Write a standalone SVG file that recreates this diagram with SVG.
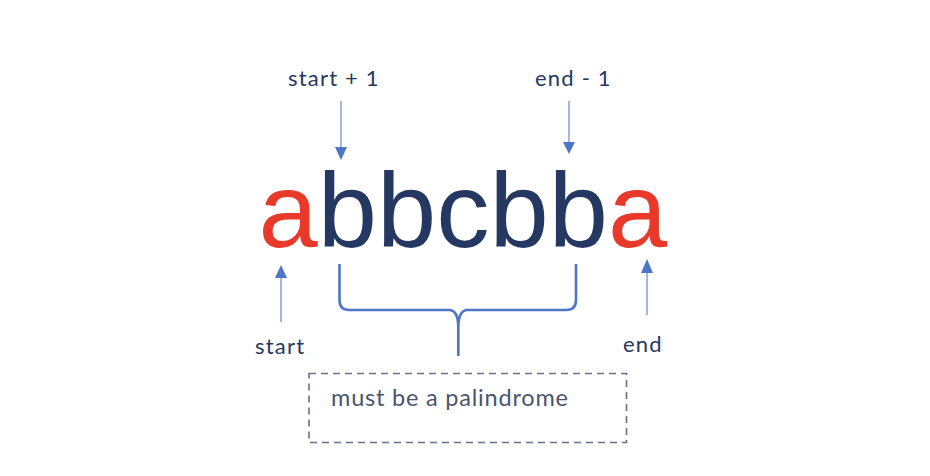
<svg xmlns="http://www.w3.org/2000/svg" width="930" height="476" viewBox="0 0 930 476">
<style>
.lbl{font-family:Lato,"Open Sans","Liberation Sans",sans-serif;font-size:22px;letter-spacing:1.2px;fill:#253862}
.big{font-family:"Liberation Sans",Arial,sans-serif;font-size:106.5px}
.ln{stroke:#a5b8e0;stroke-width:2;fill:none}
.hd{fill:#4f75c7}
</style>
<rect width="930" height="476" fill="#ffffff"/>
<g id="word">
<text class="big" x="258.5" y="247"><tspan fill="#e8392a">a</tspan><tspan fill="#253862">bbcbb</tspan><tspan fill="#e8392a">a</tspan></text>
</g>
<g id="label-start1"><text class="lbl" x="288" y="86">start + 1</text></g>
<g id="label-end1"><text class="lbl" x="535" y="86">end - 1</text></g>
<g id="label-start"><text class="lbl" x="255" y="354">start</text></g>
<g id="label-end"><text class="lbl" x="623" y="352">end</text></g>
<g id="note">
<rect x="309" y="373.5" width="317.5" height="69" fill="none" stroke="#6a7089" stroke-width="1.6" stroke-dasharray="7,5"/>
<text x="331" y="406" style="font-family:Lato,'Open Sans','Liberation Sans',sans-serif;font-size:23.5px;letter-spacing:0.8px;fill:#4a5570">must be a palindrome</text>
</g>
<g id="connectors">
<line class="ln" x1="341" y1="101" x2="341" y2="148"/>
<polygon class="hd" points="335,147 347,147 341,160"/>
<line class="ln" x1="569" y1="101" x2="569" y2="143"/>
<polygon class="hd" points="563,142 575,142 569,154"/>
<line class="ln" x1="281" y1="277" x2="281" y2="322"/>
<polygon class="hd" points="275,278 287,278 281,265"/>
<line class="ln" x1="647" y1="272" x2="647" y2="315"/>
<polygon class="hd" points="641,273 653,273 647,259"/>
<path d="M339.5,264 L339.5,300 Q339.5,310 349.5,310 L449,310 Q458.3,310 458.3,328 L458.3,356 M458.3,328 Q458.3,310 467.6,310 L566,310 Q576,310 576,300 L576,264" fill="none" stroke="#4f75c7" stroke-width="2.6"/>
</g>
</svg>
